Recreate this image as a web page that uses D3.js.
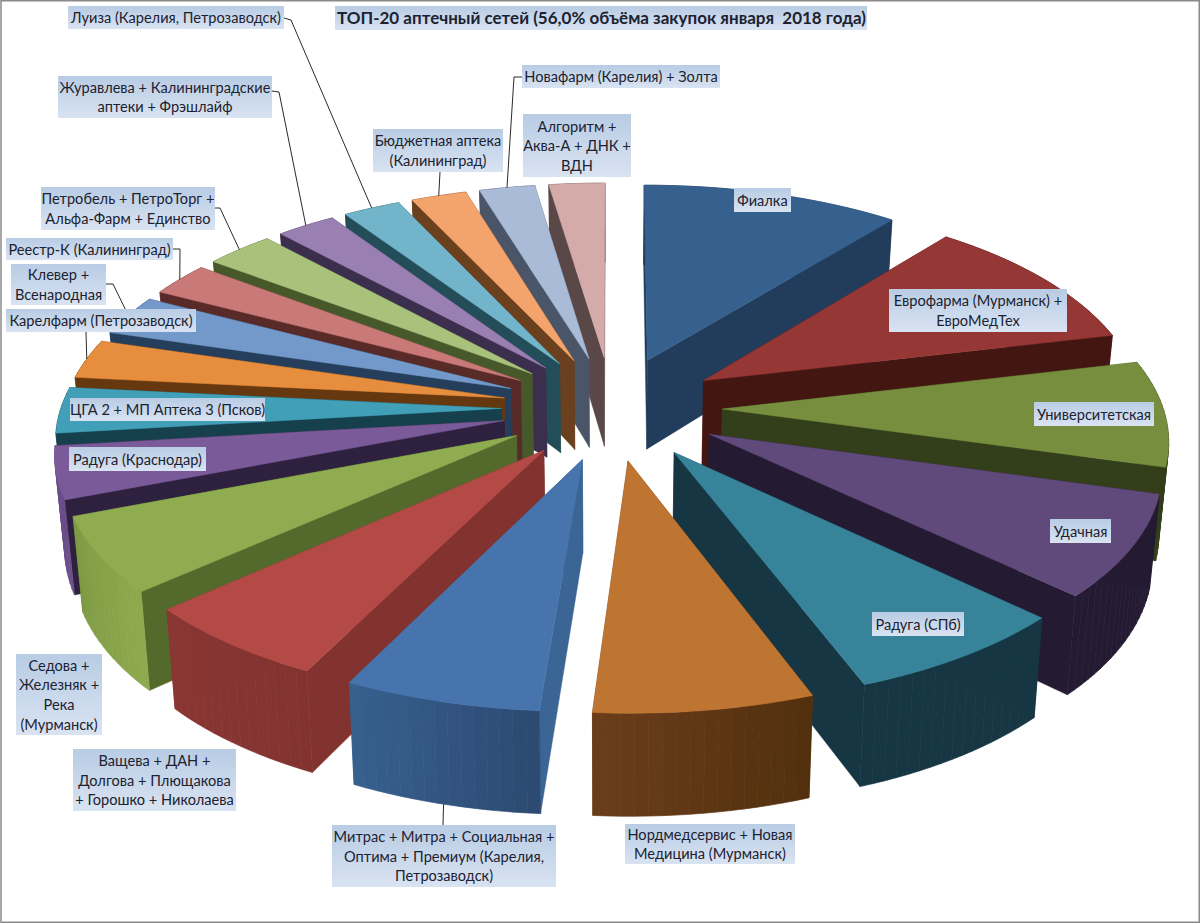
<!DOCTYPE html>
<html><head><meta charset="utf-8">
<script src="https://cdn.jsdelivr.net/npm/d3@7/dist/d3.min.js"></script>
<style>html,body{margin:0;padding:0;background:#fff}svg{display:block}text{font-family:Lato,"Open Sans",sans-serif;fill:#1c2230}</style>
</head><body><svg id="c" width="1200" height="923"></svg>
<script>
const titleText = "ТОП-20 аптечный сетей (56,0% объёма закупок января  2018 года)";
const names = ["Фиалка","Еврофарма (Мурманск) + ЕвроМедТех","Университетская","Удачная","Радуга (СПб)","Нордмедсервис + Новая Медицина (Мурманск)","Митрас + Митра + Социальная + Оптима + Премиум (Карелия, Петрозаводск)","Ващева + ДАН + Долгова + Плющакова + Горошко + Николаева","Седова + Железняк + Река (Мурманск)","Радуга (Краснодар)","ЦГА 2 + МП Аптека 3 (Псков)","Карелфарм (Петрозаводск)","Клевер + Всенародная","Реестр-К (Калининград)","Петробель + ПетроТорг + Альфа-Фарм + Единство","Журавлева + Калининградские аптеки + Фрэшлайф","Луиза (Карелия, Петрозаводск)","Бюджетная аптека (Калининград)","Новафарм (Карелия) + Золта","Алгоритм + Аква-А + ДНК + ВДН"];
const values = [10.7,10.6,8.1,7.8,7.2,6.8,6.1,6.1,5.8,4.0,3.5,3.0,3.1,2.6,2.9,2.5,2.4,2.3,2.3,2.3];
const labelLines = [["Фиалка"],["Еврофарма (Мурманск) +","ЕвроМедТех"],["Университетская"],["Удачная"],["Радуга (СПб)"],["Нордмедсервис + Новая","Медицина (Мурманск)"],["Митрас + Митра + Социальная +","Оптима + Премиум (Карелия,","Петрозаводск)"],["Ващева + ДАН +","Долгова + Плющакова","+ Горошко + Николаева"],["Седова +","Железняк +","Река","(Мурманск)"],["Радуга (Краснодар)"],["ЦГА 2 + МП Аптека 3 (Псков)"],["Карелфарм (Петрозаводск)"],["Клевер +","Всенародная"],["Реестр-К (Калининград)"],["Петробель + ПетроТорг +","Альфа-Фарм + Единство"],["Журавлева + Калининградские","аптеки + Фрэшлайф"],["Луиза (Карелия, Петрозаводск)"],["Бюджетная аптека","(Калининград)"],["Новафарм (Карелия) + Золта"],["Алгоритм +","Аква-А + ДНК +","ВДН"]];
const topColors = ["#36618f","#953735","#768e3e","#604a7b","#37849a","#bf7532","#4774ac","#b44a46","#8fad50","#7a5a99","#41a0b7","#e68e3e","#7299c9","#c97a78","#a9c27b","#9a80b2","#72b4c9","#f3a46c","#a9bbd6","#d5abaa"];
const wallColors = ["#223c5c","#431612","#333e1a","#241b33","#153642","#6a3d1a","#3b6595","#823330","#546a2d","#2d213f","#17404d","#66380f","#253e5b","#582a28","#47582a","#3c2f4e","#234d59","#6b401f","#4a5568","#5a4848"];
const outerFrom = ["#223c5c","#431612","#333e1a","#241b33","#153642","#52300e","#2c4a72","#823330","#8eaa4e","#6b4f8a","#17404d","#66380f","#253e5b","#582a28","#47582a","#3c2f4e","#234d59","#6b401f","#4a5568","#5a4848"];
const outerTo = ["#223c5c","#431612","#333e1a","#241b33","#153642","#6a3d1a","#37608e","#8a3633","#7f9b45","#6b4f8a","#17404d","#66380f","#253e5b","#582a28","#47582a","#3c2f4e","#234d59","#6b401f","#4a5568","#5a4848"];

// layout: label boxes [x0,y0,x1,y1] and leader elbows
const labelBoxes = [[734,188,791,212],[889,289,1067,332],[1034,402,1154,426],[1050,519,1111,543],[872,612,964,636],[625,824,795,864],[332,825,556,887],[73,749,236,811],[16,654,102,735],[69,447,206,471],[70,398,265,421],[6,309,196,332],[11,264,106,305],[6,238,173,260],[41,187,215,230],[58,76,272,118],[68,6,284,29],[373,129,503,172],[522,65,720,88],[523,114,631,177]];
const leaders = {16:[[284,18],[291,20]],15:[[272,91],[279,92]],18:[[522,77],[514,77]],17:[[440,172]],14:[[215,208],[220,208]],13:[[173,249],[180,249]],12:[[106,284],[113,284]],11:[[86,332]],6:[[443,825]]};

const W=1200,H=923;
const cx=612,cy=408,a=551,b=259.3,persp=0.1525,round=0.02,explode=0.2,radius=0.8;
const svg=d3.select("#c");
const defs=svg.append("defs");
const grad=defs.append("linearGradient").attr("id","lb").attr("x1",0).attr("y1",0).attr("x2",0).attr("y2",1);
grad.append("stop").attr("offset",0).attr("stop-color","#b8cce4");
grad.append("stop").attr("offset",1).attr("stop-color","#d9e3f2");

function ptTop(X,Y){const k=1/(1-persp*Y);return [cx+a*X*k*(1+round*Y*Y),cy+b*Y*k];}
function ptBot(X,Y){const p=ptTop(X,Y);return [cx+(p[0]-cx)*0.982,p[1]+91+12*Y];}
const pie=d3.pie().sort(null).value(d=>d).startAngle(0).endAngle(2*Math.PI);
const arcs=pie(values).map((d,i)=>{
  const mid=(d.startAngle+d.endAngle)/2;
  const ax=explode*Math.sin(mid),ay=-explode*Math.cos(mid);
  const n=Math.max(4,Math.round((d.endAngle-d.startAngle)/(1.5*Math.PI/180)));
  const ang=d3.range(n+1).map(j=>d.startAngle+(d.endAngle-d.startAngle)*j/n);
  const rim=ang.map(t=>[ax+radius*Math.sin(t),ay-radius*Math.cos(t)]);
  return {i,mid,ax,ay,rim};
});
const line=d3.line();
const order=arcs.slice().sort((p,q)=>d3.ascending(-Math.cos(p.mid),-Math.cos(q.mid)));
const g=svg.append("g");
order.forEach(s=>{
  const i=s.i,A=[s.ax,s.ay],r0=s.rim[0],r1=s.rim[s.rim.length-1];
  const quad=(u,v)=>line([ptTop(...u),ptTop(...v),ptBot(...v),ptBot(...u)])+"Z";
  const sg=g.append("g");
  [r0,r1].forEach(r=>sg.append("path").attr("d",quad(A,r)).attr("fill",wallColors[i]).attr("stroke",wallColors[i]).attr("stroke-width",.4));
  const mix=d3.interpolateRgb(outerFrom[i],outerTo[i]);
  d3.pairs(s.rim).forEach((pr,j)=>{
    const c=mix(j/(s.rim.length-2||1));
    sg.append("path").attr("d",quad(pr[0],pr[1])).attr("fill",c).attr("stroke",c).attr("stroke-width",.7);
  });
  const face=[ptTop(...A),...s.rim.map(p=>ptTop(...p))];
  sg.append("path").attr("d",line(face)+"Z").attr("fill",topColors[i]).attr("stroke",topColors[i]).attr("stroke-width",.5);
});
// frame
svg.append("rect").attr("x",1).attr("y",0.75).attr("width",W-1.75).attr("height",H-1.5).attr("fill","none").attr("stroke","#8a8a8a").attr("stroke-width",1.5);
// leaders
Object.keys(leaders).forEach(k=>{
  const s=arcs[+k],mx=s.ax+radius*Math.sin(s.mid),my=s.ay-radius*Math.cos(s.mid);
  const end=(+k===6)?ptBot(mx,my):ptTop(mx,my);
  svg.append("path").attr("d",line([...leaders[k],end])).attr("fill","none").attr("stroke","#2a2a2a").attr("stroke-width",1);
});
// labels
const fs=14.6,lh=19.6;
labelLines.forEach((ls,i)=>{
  const [x0,y0,x1,y1]=labelBoxes[i];
  svg.append("rect").attr("x",x0).attr("y",y0).attr("width",x1-x0).attr("height",y1-y0).attr("fill","url(#lb)");
  const mx=(x0+x1)/2,my=(y0+y1)/2;
  ls.forEach((t,j)=>svg.append("text").attr("x",mx).attr("y",my+(j-(ls.length-1)/2)*lh+fs*0.35+0.5).attr("text-anchor","middle").attr("font-size",fs).text(t));
});
// title
svg.append("rect").attr("x",335).attr("y",6).attr("width",532).attr("height",24).attr("fill","url(#lb)");
svg.append("text").attr("x",601.5).attr("y",24).attr("text-anchor","middle").attr("font-size",17).attr("font-weight",700).attr("xml:space","preserve").text(titleText);
</script></body></html>
